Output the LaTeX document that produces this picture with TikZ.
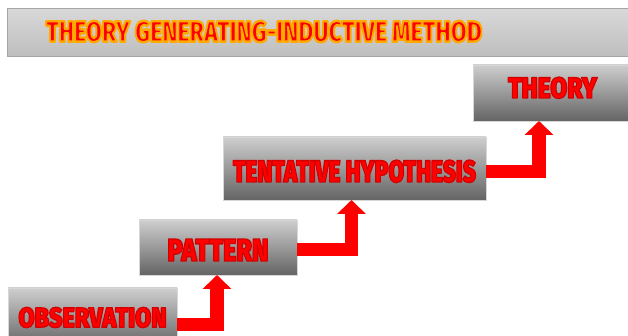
\documentclass[tikz,border=0pt]{standalone}
\usepackage{fontspec}
\setmainfont{Liberation Sans}
\IfFontExistsTF{Fira Sans Black}
  {\newfontfamily\heavyfont{Fira Sans Black}}
  {\newfontfamily\heavyfont{Liberation Sans Bold}}
\usetikzlibrary{arrows.meta}
\definecolor{titletop}{RGB}{216,216,216}
\definecolor{titlebot}{RGB}{190,190,190}
\definecolor{titleedge}{RGB}{165,165,165}
\definecolor{boxtop}{RGB}{206,206,206}
\definecolor{boxbot}{RGB}{100,100,100}
\definecolor{boxedge}{RGB}{215,215,215}
\definecolor{txtred}{RGB}{255,0,0}
\definecolor{arrred}{RGB}{255,0,0}
% #1 stroke colour as "r g b" (0..1), #2 stroke width in bp, #3 fill colour, #4 text
\newcommand\strokedtext[4]{{\color{#3}%
 \special{pdf:literal direct q #2 w 1 j #1 RG 2 Tr}#4\special{pdf:literal direct 0 Tr Q}}}
\newcommand\heavytext[4]{\resizebox{#1}{#2}{\fontsize{#3}{#3}\selectfont\heavyfont #4}}
\newcommand\steptext[3]{\strokedtext{0.82 0 0}{1.3}{txtred}{\heavytext{#1}{#2}{30pt}{#3}}}
\tikzset{
  stepbox/.style={rectangle, draw=boxedge, line width=0.5pt, top color=boxtop, bottom color=boxbot, inner sep=0pt, outer sep=0pt},
  titlebg/.style={draw=titleedge, line width=1pt, top color=titletop, bottom color=titlebot},
  titletext/.style={inner sep=0pt, outer sep=0pt},
  arr/.style={draw=arrred, line width=13.3pt, line join=miter, -{Triangle[width=28pt,length=14pt]}}
}
\begin{document}
\begin{tikzpicture}[x=1pt,y=1pt]
\useasboundingbox (0,0) rectangle (628,336);
\clip (0,0) rectangle (628,336);
% title bar
\path[titlebg] (7,279) rectangle (645,327);
\node[titletext] (title) at (264,304.5)
  {\strokedtext{1 0.66 0}{2.4}{txtred}{\heavytext{436pt}{21pt}{29pt}{THEORY GENERATING-INDUCTIVE METHOD}}};
% step boxes
\node[stepbox, minimum width=159pt, minimum height=56pt] (theory) at (552.5,243)
  {\raisebox{0pt}[22pt][12pt]{\steptext{89pt}{21pt}{THEORY}}};
\node[stepbox, minimum width=263pt, minimum height=63pt] (hyp) at (354.5,167.5)
  {\raisebox{0pt}[27pt][0pt]{\steptext{243pt}{22pt}{TENTATIVE HYPOTHESIS}}};
\node[stepbox, minimum width=158pt, minimum height=55pt] (pat) at (218,88.5)
  {\raisebox{0pt}[27pt][0pt]{\steptext{101pt}{22pt}{PATTERN}}};
\node[stepbox, minimum width=169pt, minimum height=59pt] (obs) at (92.5,18.5)
  {\steptext{148pt}{20pt}{OBSERVATION}};
% arrows
\draw[arr] ([yshift=-7pt]obs.east) -| ([xshift=-1pt]pat.south);
\draw[arr] ([yshift=-2pt]pat.east) -| ([xshift=-3pt]hyp.south);
\draw[arr] ([yshift=-3pt]hyp.east) -| ([xshift=-13.5pt]theory.south);
\end{tikzpicture}
\end{document}
